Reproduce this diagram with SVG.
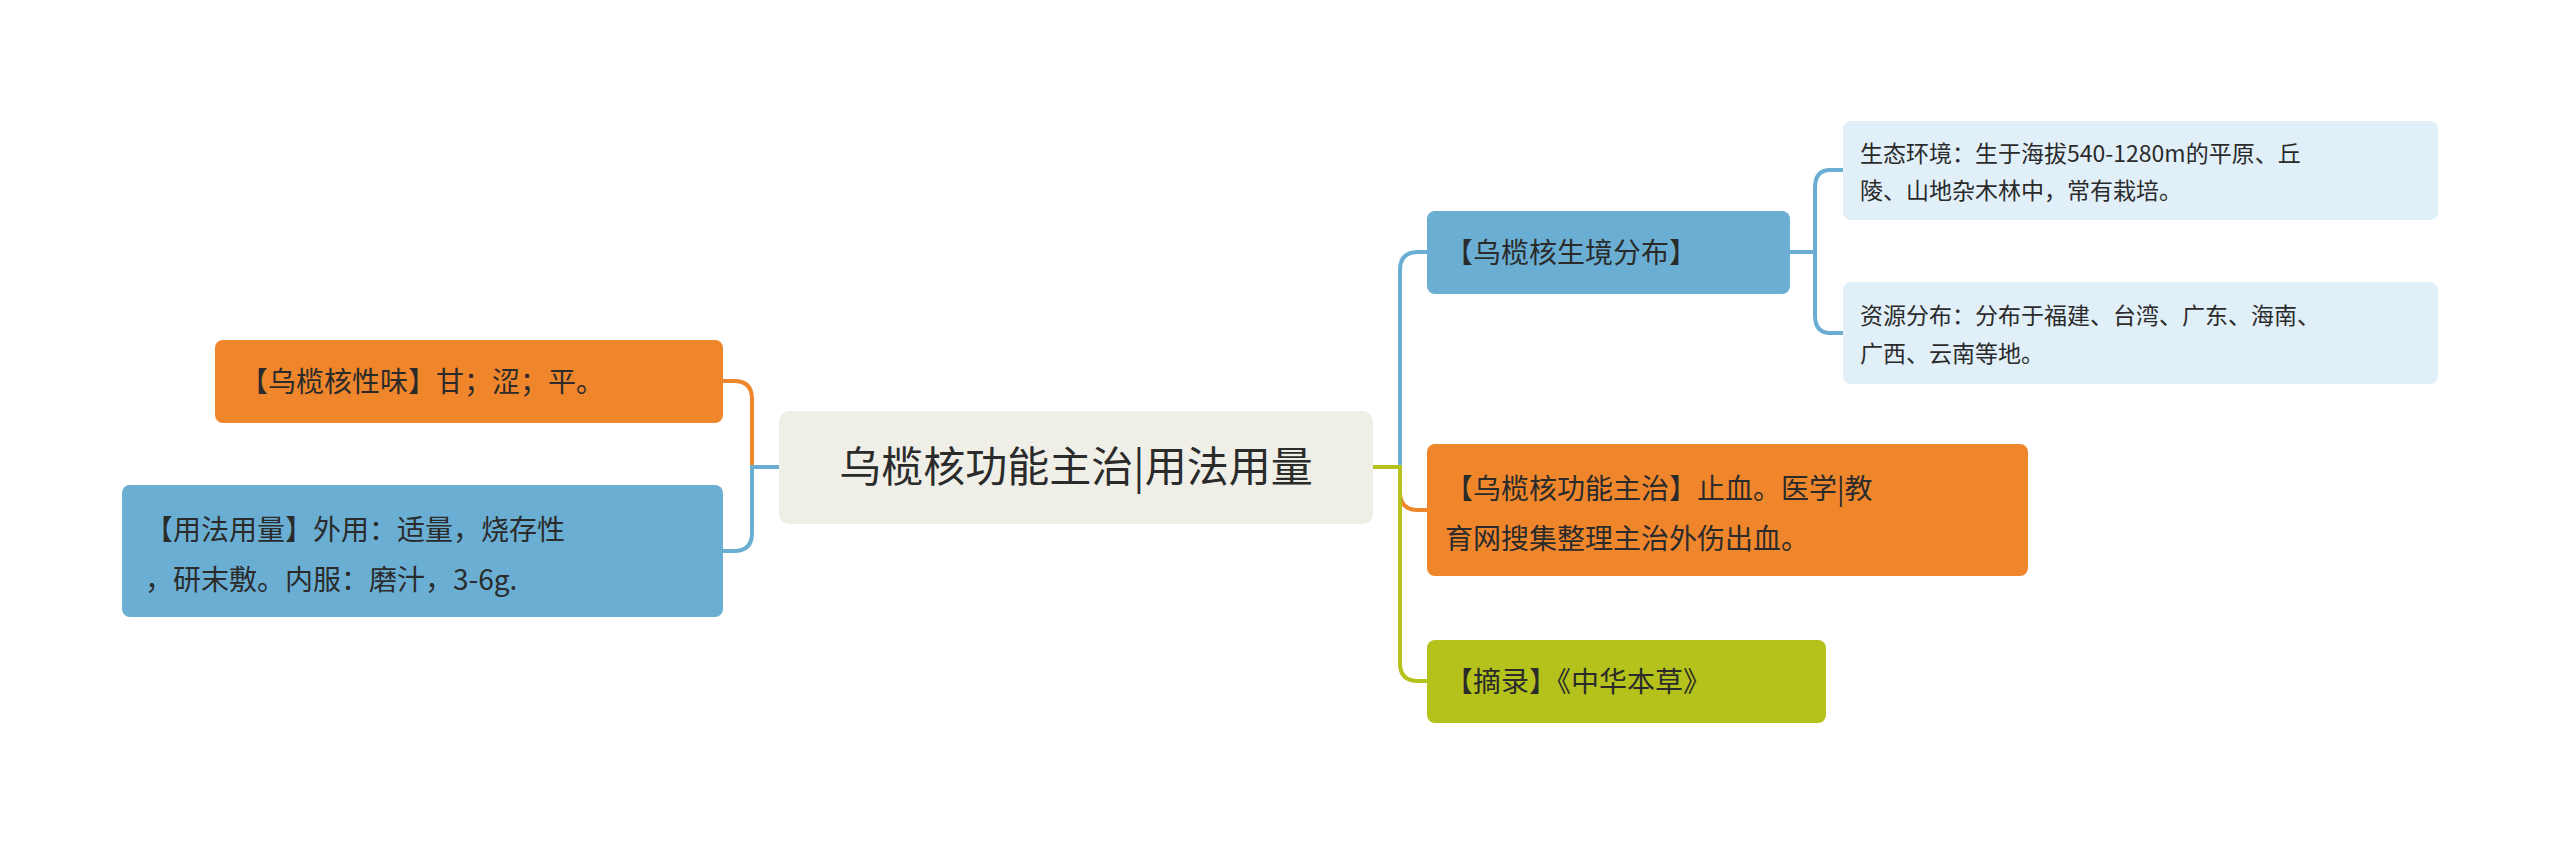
<svg xmlns="http://www.w3.org/2000/svg" width="2560" height="846" viewBox="0 0 2560 846">
<style>
text{font-family:"Noto Sans CJK SC","Noto Sans",sans-serif;fill:#2b2b2b}
.m{font-size:28px}
.s{font-size:23px}
.c{fill:none;stroke-width:4}
</style>
<rect width="2560" height="846" fill="#fff"/>
<g id="connectors">
<path class="c" stroke="#f0862b" d="M779 467 H752 V399 Q752 381 734 381 H723"/>
<path class="c" stroke="#6aafd3" d="M779 467 H752 V533 Q752 551 734 551 H723"/>
<path class="c" stroke="#6aafd3" d="M1373 467 H1400 V270 Q1400 252 1418 252 H1427"/>
<path class="c" stroke="#f0862b" d="M1373 467 H1400 V492 Q1400 510 1418 510 H1427"/>
<path class="c" stroke="#b5c21b" d="M1373 467 H1400 V663 Q1400 681 1418 681 H1427"/>
<path class="c" stroke="#6aafd3" d="M1790 252 H1815 V188 Q1815 170 1830 170 H1843"/>
<path class="c" stroke="#6aafd3" d="M1790 252 H1815 V315 Q1815 333 1830 333 H1843"/>
</g>
<g id="center"><rect x="779" y="411" width="594" height="113" rx="10" fill="#efefe7"/><text x="1076" y="482" font-size="42" text-anchor="middle">乌榄核功能主治|用法用量</text></g>
<g id="left1"><rect x="215" y="340" width="508" height="83" rx="8" fill="#f0862b"/><text class="m" x="240" y="392">【乌榄核性味】甘；涩；平。</text></g>
<g id="left2"><rect x="122" y="485" width="601" height="132" rx="8" fill="#6aafd3"/><text class="m" x="145" y="540">【用法用量】外用：适量，烧存性</text><text class="m" x="145" y="590">，研末敷。内服：磨汁，3-6g.</text></g>
<g id="r1"><rect x="1427" y="211" width="363" height="83" rx="8" fill="#6aafd3"/><text class="m" x="1445" y="263">【乌榄核生境分布】</text></g>
<g id="r1a"><rect x="1843" y="121" width="595" height="99" rx="8" fill="#e1eff8"/><text class="s" x="1860" y="162">生态环境：生于海拔540-1280m的平原、丘</text><text class="s" x="1860" y="199">陵、山地杂木林中，常有栽培。</text></g>
<g id="r1b"><rect x="1843" y="282" width="595" height="102" rx="8" fill="#e1eff8"/><text class="s" x="1860" y="324">资源分布：分布于福建、台湾、广东、海南、</text><text class="s" x="1860" y="362">广西、云南等地。</text></g>
<g id="r2"><rect x="1427" y="444" width="601" height="132" rx="8" fill="#f0862b"/><text class="m" x="1445" y="499">【乌榄核功能主治】止血。医学|教</text><text class="m" x="1445" y="549">育网搜集整理主治外伤出血。</text></g>
<g id="r3"><rect x="1427" y="640" width="399" height="83" rx="8" fill="#b5c21b"/><text class="m" x="1445" y="692">【摘录】《中华本草》</text></g>
</svg>
